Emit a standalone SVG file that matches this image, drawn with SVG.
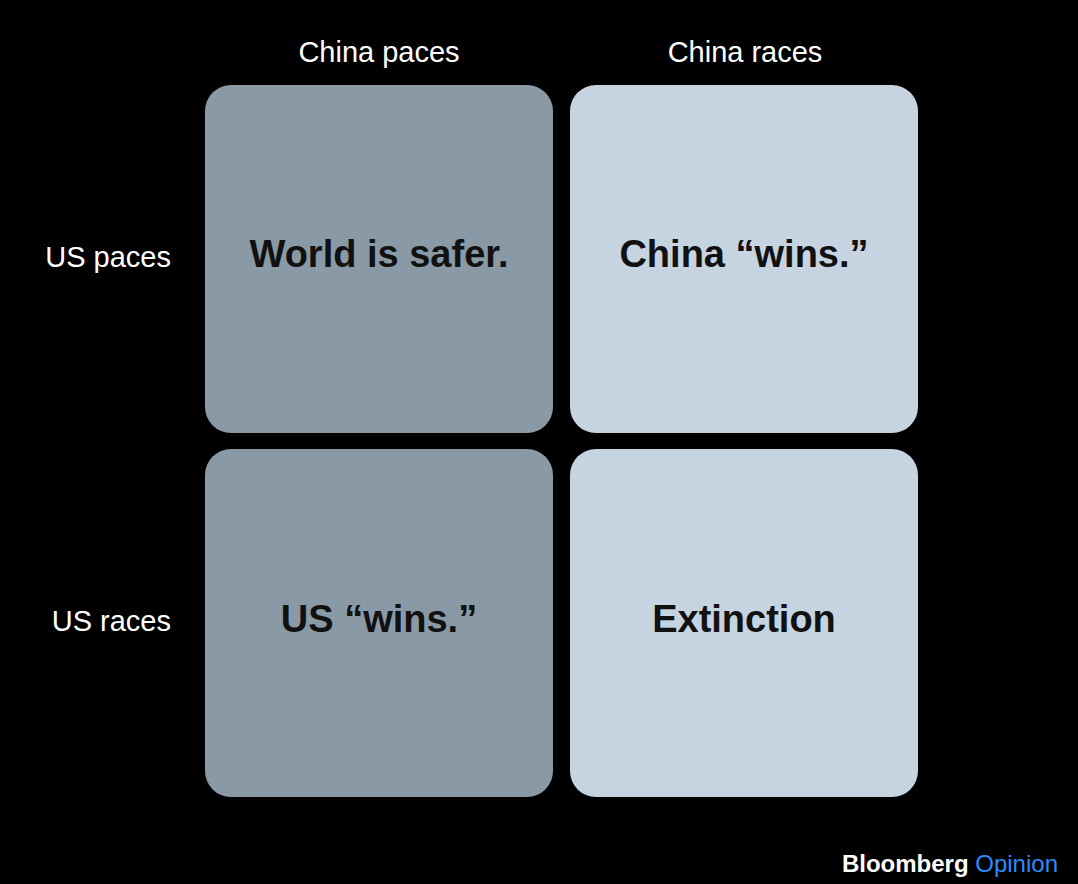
<svg xmlns="http://www.w3.org/2000/svg" width="1078" height="884" viewBox="0 0 1078 884">
<style>
.h{font-family:"Liberation Sans",Arial,sans-serif;font-size:29px;fill:#fff}
.c{font-family:"Liberation Sans",Arial,sans-serif;font-size:38px;font-weight:bold;fill:#111;text-anchor:middle}
.d{fill:#8a99a6}.l{fill:#c5d4e0}
</style>
<rect width="1078" height="884" fill="#000"/>
<g id="headers">
<text class="h" x="379" y="62" text-anchor="middle">China paces</text>
<text class="h" x="745" y="62" text-anchor="middle">China races</text>
<text class="h" x="171" y="267" text-anchor="end">US paces</text>
<text class="h" x="171" y="631" text-anchor="end">US races</text>
</g>
<g id="n1"><rect class="d" x="205" y="85" width="348" height="348" rx="26"/><text class="c" x="379" y="267">World is safer.</text></g>
<g id="n2"><rect class="l" x="570" y="85" width="348" height="348" rx="26"/><text class="c" x="744" y="267">China “wins.”</text></g>
<g id="n3"><rect class="d" x="205" y="449" width="348" height="348" rx="26"/><text class="c" x="379" y="632">US “wins.”</text></g>
<g id="n4"><rect class="l" x="570" y="449" width="348" height="348" rx="26"/><text class="c" x="744" y="632">Extinction</text></g>
<g id="connectors"/>
<text x="1058" y="872" text-anchor="end" font-family="Liberation Sans,Arial,sans-serif" font-size="24" font-weight="bold" fill="#fff">Bloomberg <tspan fill="#2a8cff" font-weight="normal">Opinion</tspan></text>
</svg>
